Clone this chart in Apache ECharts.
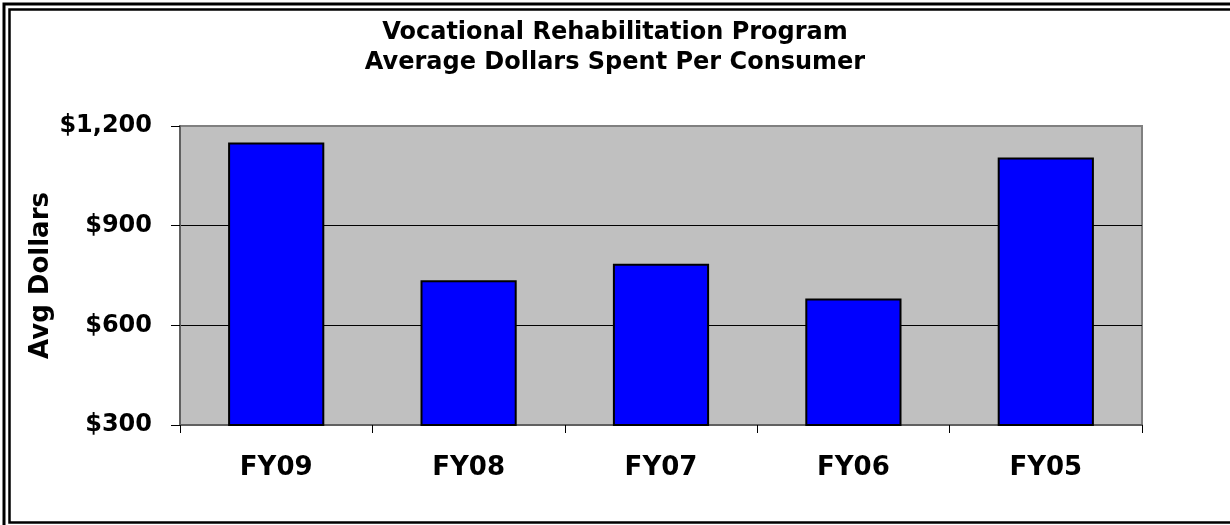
<!DOCTYPE html>
<html>
<head>
<meta charset="utf-8">
<script src="https://cdn.jsdelivr.net/npm/echarts@6/dist/echarts.min.js"></script>
<style>
  html, body { margin: 0; padding: 0; background: #fff; }
  #chart { width: 1230px; height: 525px; }
</style>
</head>
<body>
<div id="chart"></div>
<script>
// values
var categories = ['FY09', 'FY08', 'FY07', 'FY06', 'FY05'];
var avgDollars = [1150, 736, 785, 681, 1105];
var yMin = 300, yMax = 1200, yStep = 300;

var fontFam = 'DejaVu Sans';
var chart = echarts.init(document.getElementById('chart'));

var option = {
    animation: false,
    backgroundColor: '#ffffff',
    title: {
        text: 'Vocational Rehabilitation Program\nAverage Dollars Spent Per Consumer',
        left: 'center',
        top: 13,
        textStyle: {
            fontFamily: fontFam,
            fontSize: 24,
            fontWeight: 'bold',
            color: '#000',
            lineHeight: 30
        }
    },
    grid: {
        left: 180,
        right: 88,
        top: 126,
        bottom: 100,
        show: true,
        backgroundColor: '#c0c0c0',
        borderColor: '#808080',
        borderWidth: 2
    },
    xAxis: {
        type: 'category',
        data: categories,
        axisLine: { show: true, lineStyle: { color: '#606060', width: 2 } },
        axisTick: { show: true, length: 8, lineStyle: { color: '#000', width: 1 } },
        axisLabel: {
            margin: 30,
            fontFamily: fontFam,
            fontSize: 26,
            fontWeight: 'bold',
            color: '#000'
        }
    },
    yAxis: {
        type: 'value',
        min: yMin,
        max: yMax,
        interval: yStep,
        name: 'Avg Dollars',
        nameLocation: 'middle',
        nameGap: 126,
        nameMoveOverlap: false,
        nameTextStyle: {
            fontFamily: fontFam,
            fontSize: 26,
            fontWeight: 'bold',
            color: '#000'
        },
        axisLine: { show: true, lineStyle: { color: '#606060', width: 2 } },
        axisTick: { show: true, length: 9, lineStyle: { color: '#000', width: 1 } },
        axisLabel: {
            margin: 28,
            fontFamily: fontFam,
            fontSize: 24,
            fontWeight: 'bold',
            color: '#000',
            formatter: function (v) {
                return '$' + v.toLocaleString('en-US');
            }
        },
        splitLine: {
            show: true,
            lineStyle: { color: ['#808080', '#000', '#000', '#808080'], width: 1 }
        }
    },
    series: [{
        type: 'bar',
        data: avgDollars,
        barWidth: '50%',
        itemStyle: {
            color: '#0000ff',
            borderColor: '#000',
            borderWidth: 2
        }
    }],
    graphic: [
        {
            type: 'rect',
            shape: { x: 4, y: 4, width: 1260, height: 560 },
            style: { fill: null, stroke: '#000', lineWidth: 3 },
            silent: true
        },
        {
            type: 'rect',
            shape: { x: 9.5, y: 9.5, width: 1260, height: 513 },
            style: { fill: null, stroke: '#000', lineWidth: 2.5 },
            silent: true
        }
    ]
};
chart.setOption(option);
</script>
</body>
</html>
